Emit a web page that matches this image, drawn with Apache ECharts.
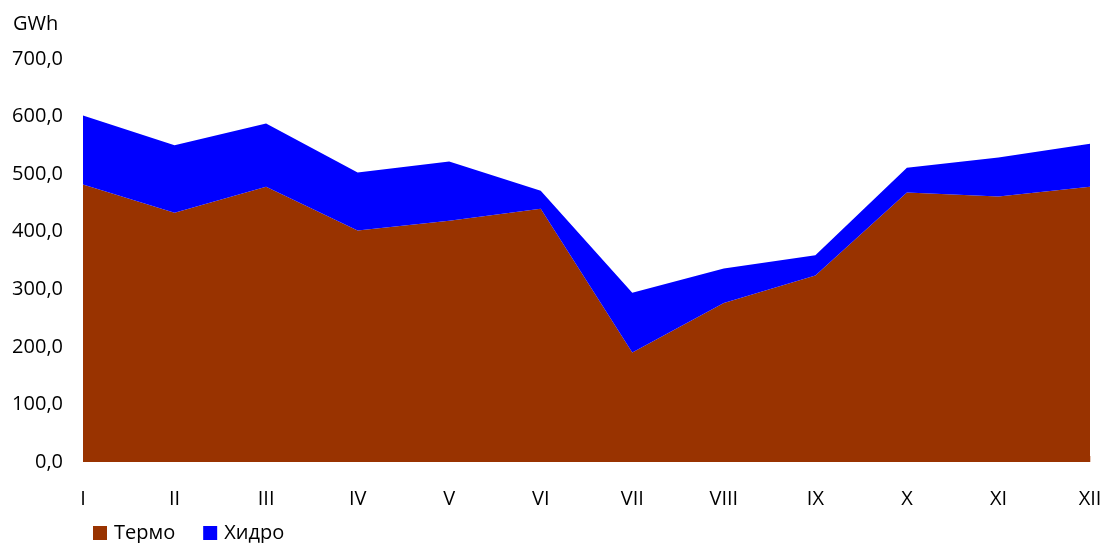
<!DOCTYPE html>
<html>
<head>
<meta charset="utf-8">
<script src="https://cdn.jsdelivr.net/npm/echarts@6/dist/echarts.min.js"></script>
<style>
  html, body { margin: 0; padding: 0; background: #fff; }
  #chart { width: 1111px; height: 543px; }
</style>
</head>
<body>
<div id="chart"></div>
<script>
const months = ['I', 'II', 'III', 'IV', 'V', 'VI', 'VII', 'VIII', 'IX', 'X', 'XI', 'XII'];
const termo = [482, 433, 478, 402, 419, 440, 190, 276, 324, 468, 461, 478];
const hidro = [120, 117, 110, 101, 103, 31, 104, 60, 35, 43, 68, 75];

const font = '"Open Sans", "Noto Sans", sans-serif';

let myChart = echarts.init(document.getElementById('chart'));
let option = {
  animation: false,
  textStyle: { fontFamily: font },
  title: {
    text: 'GWh',
    left: 8,
    top: 9,
    textStyle: { fontFamily: font, fontSize: 20, fontWeight: 'normal', color: '#000' }
  },
  legend: {
    left: 88,
    top: 518,
    itemWidth: 14,
    itemHeight: 14,
    itemGap: 28,
    icon: 'rect',
    textStyle: { fontFamily: font, fontSize: 20, color: '#000', padding: [0, 0, 0, 2] },
    data: ['Термо', 'Хидро']
  },
  grid: { left: 83, right: 21, top: 59, bottom: 81 },
  xAxis: {
    type: 'category',
    boundaryGap: false,
    data: months,
    axisLine: { show: false },
    axisTick: { show: true, inside: true, length: 6, lineStyle: { color: '#e8c8b8', width: 1 } },
    axisLabel: { margin: 27, fontSize: 20, color: '#000', fontFamily: font }
  },
  yAxis: {
    type: 'value',
    min: 0,
    max: 700,
    interval: 100,
    splitLine: { show: false },
    axisLine: { show: false },
    axisTick: { show: false },
    axisLabel: {
      margin: 20,
      fontSize: 20,
      color: '#000',
      fontFamily: font,
      formatter: v => v.toFixed(1).replace('.', ',')
    }
  },
  series: [
    {
      name: 'Термо',
      type: 'line',
      stack: 'total',
      data: termo,
      symbol: 'none',
      lineStyle: { width: 0 },
      itemStyle: { color: '#993300' },
      areaStyle: { color: '#993300', opacity: 1 }
    },
    {
      name: 'Хидро',
      type: 'line',
      stack: 'total',
      data: hidro,
      symbol: 'none',
      lineStyle: { width: 0 },
      itemStyle: { color: '#0000ff' },
      areaStyle: { color: '#0000ff', opacity: 1 }
    }
  ]
};
myChart.setOption(option);
</script>
</body>
</html>
